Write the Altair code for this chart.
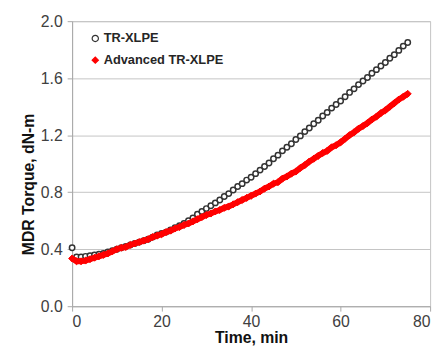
import altair as alt
import pandas as pd

# Time (min) for each reading
time_min = list(range(0, 76))

tr_xlpe = [0.41, 0.345, 0.345, 0.35, 0.355, 0.36, 0.365, 0.37, 0.38, 0.39,
           0.40, 0.41, 0.42, 0.43, 0.44, 0.45, 0.46, 0.47, 0.485, 0.50,
           0.51, 0.52, 0.535, 0.55, 0.565, 0.58, 0.60, 0.62, 0.645, 0.665,
           0.685, 0.705, 0.725, 0.745, 0.77, 0.79, 0.815, 0.84, 0.86, 0.885,
           0.905, 0.93, 0.955, 0.98, 1.005, 1.035, 1.06, 1.09, 1.115, 1.14,
           1.17, 1.195, 1.225, 1.25, 1.28, 1.305, 1.335, 1.36, 1.39, 1.415,
           1.44, 1.47, 1.50, 1.525, 1.555, 1.58, 1.605, 1.635, 1.66, 1.685,
           1.71, 1.74, 1.765, 1.795, 1.825, 1.85]

advanced = [0.335, 0.315, 0.315, 0.32, 0.33, 0.34, 0.35, 0.36, 0.37, 0.385,
            0.40, 0.41, 0.415, 0.43, 0.44, 0.45, 0.46, 0.47, 0.485, 0.495,
            0.505, 0.52, 0.53, 0.545, 0.555, 0.57, 0.58, 0.595, 0.61, 0.625,
            0.64, 0.65, 0.665, 0.675, 0.69, 0.70, 0.715, 0.73, 0.745, 0.76,
            0.775, 0.79, 0.805, 0.825, 0.84, 0.86, 0.87, 0.895, 0.91, 0.93,
            0.945, 0.97, 0.99, 1.015, 1.035, 1.055, 1.075, 1.09, 1.115, 1.13,
            1.15, 1.175, 1.20, 1.22, 1.245, 1.265, 1.285, 1.31, 1.33, 1.355,
            1.375, 1.40, 1.425, 1.45, 1.47, 1.49]

series_names = ["TR-XLPE", "Advanced TR-XLPE"]
x_ticks = [0, 20, 40, 60, 80]
y_ticks = [0.0, 0.4, 0.8, 1.2, 1.6, 2.0]

df = pd.concat([
    pd.DataFrame({"t": time_min, "v": tr_xlpe, "series": series_names[0]}),
    pd.DataFrame({"t": time_min, "v": advanced, "series": series_names[1]}),
], ignore_index=True)

FONT = "Liberation Sans"
GRID = "#c4c4c4"

x_enc = alt.X("t:Q", scale=alt.Scale(domain=[0, 80], nice=False),
              axis=alt.Axis(values=x_ticks, title="Time, min", grid=False,
                            tickSize=5, labelPadding=3, titlePadding=0,
                            labelFontSize=16, titleFontSize=16))
y_enc = alt.Y("v:Q", scale=alt.Scale(domain=[0, 2.0], nice=False),
              axis=alt.Axis(values=y_ticks, format=".1f", title="MDR Torque, dN-m",
                            tickSize=5, labelPadding=5, titleFontSize=16,
                            labelFontSize=16, titleY=165, titleX=-36))

legend = alt.Legend(title=None, orient="none", legendX=17, legendY=11,
                    symbolSize=40, labelFontSize=13, labelFontWeight="bold",
                    labelColor="#262626", rowPadding=8, labelOffset=2, padding=0,
                    symbolStrokeWidth=1.2)

shape_enc = alt.Shape("series:N", scale=alt.Scale(domain=series_names, range=["circle", "diamond"]), legend=legend)
stroke_enc = alt.Stroke("series:N", scale=alt.Scale(domain=series_names, range=["#333333", "#ff0000"]), legend=legend)
fill_enc = alt.Fill("series:N", scale=alt.Scale(domain=series_names, range=["#ffffff", "#ff0000"]), legend=legend)

base = alt.Chart(df)

tr_pts = base.transform_filter(alt.datum.series == series_names[0]).mark_point(
    size=30, strokeWidth=1.5, opacity=1, filled=False
).encode(x=x_enc, y=y_enc, shape=shape_enc, stroke=stroke_enc, fill=fill_enc)

adv_line = base.transform_filter(alt.datum.series == series_names[1]).mark_line(
    color="#ff0000", strokeWidth=6
).encode(x=x_enc, y=y_enc)

adv_pts = base.transform_filter(alt.datum.series == series_names[1]).mark_point(
    size=50, strokeWidth=1, opacity=1
).encode(x=x_enc, y=y_enc, shape=shape_enc, stroke=stroke_enc, fill=fill_enc)

chart = alt.layer(tr_pts, adv_line, adv_pts).properties(
    width=363, height=289,
    autosize=alt.AutoSizeParams(type="none"),
    padding={"left": 65, "top": 11, "right": 8, "bottom": 38},
).configure(font=FONT).configure_view(
    stroke=GRID, strokeWidth=1
).configure_axis(
    domainColor="#a8a8a8", tickColor="#a8a8a8", gridColor=GRID,
    labelColor="#404040", titleColor="#111111", titleFontWeight="bold",
    labelFont=FONT, titleFont=FONT
).configure_legend(labelFont=FONT)

chart.save("out.html", embed_options={"renderer": "svg", "actions": False})
